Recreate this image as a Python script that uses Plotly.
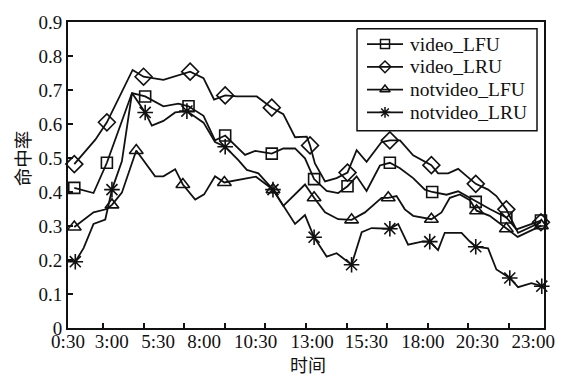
import plotly.graph_objects as go

# Time of day in hours, hit rate per series; *_mk lists the indices that carry a marker.
video_lfu_t = [0.56, 1.51, 2.17, 3.41, 4.06, 4.96, 5.70, 6.20, 6.94, 7.51, 8.01, 8.99, 9.49,
               10.31, 10.88, 11.46, 11.95, 12.40, 13.02, 13.59, 14.05, 14.50, 14.99, 15.65,
               16.14, 16.64, 17.29, 17.87, 18.23, 18.94, 19.51, 20.09, 20.38, 21.07, 21.89,
               22.39, 23.60]
video_lfu_v = [0.412, 0.397, 0.486, 0.691, 0.681, 0.652, 0.660, 0.652, 0.624, 0.552, 0.566,
               0.509, 0.521, 0.513, 0.528, 0.528, 0.499, 0.438, 0.403, 0.397, 0.417, 0.446,
               0.403, 0.478, 0.486, 0.470, 0.441, 0.407, 0.400, 0.392, 0.402, 0.383, 0.371,
               0.350, 0.325, 0.290, 0.316]
video_lfu_mk = [0, 2, 4, 7, 10, 13, 17, 20, 24, 28, 32, 34, 36]

video_lru_t = [0.56, 1.60, 2.17, 3.44, 3.98, 4.96, 6.28, 6.94, 7.46, 8.01, 8.58, 9.57, 10.31,
               10.88, 11.46, 12.04, 12.20, 12.44, 12.94, 13.51, 14.05, 14.50, 14.99, 15.73,
               16.14, 16.64, 17.29, 18.19, 18.52, 19.02, 19.51, 20.38, 20.99, 21.40, 21.89,
               22.47, 23.60]
video_lru_v = [0.482, 0.554, 0.605, 0.759, 0.739, 0.730, 0.754, 0.735, 0.672, 0.684, 0.681,
               0.681, 0.648, 0.629, 0.561, 0.563, 0.537, 0.484, 0.431, 0.441, 0.457, 0.523,
               0.489, 0.547, 0.552, 0.552, 0.508, 0.479, 0.455, 0.455, 0.468, 0.424, 0.407,
               0.388, 0.349, 0.280, 0.311]
video_lru_mk = [0, 2, 4, 6, 9, 12, 16, 20, 24, 27, 31, 34, 36]

notvideo_lfu_t = [0.56, 1.51, 2.17, 2.42, 2.91, 3.62, 4.55, 4.96, 5.54, 5.92, 6.53, 6.97,
                  7.51, 7.97, 9.53, 10.37, 10.88, 11.95, 12.40, 12.94, 13.59, 14.25, 14.91,
                  15.73, 16.06, 16.47, 16.88, 17.29, 18.19, 18.69, 19.10, 19.60, 20.09, 20.42,
                  21.07, 21.89, 22.45, 23.62]
notvideo_lfu_v = [0.297, 0.340, 0.350, 0.362, 0.398, 0.522, 0.446, 0.446, 0.467, 0.422, 0.378,
                  0.393, 0.446, 0.428, 0.445, 0.407, 0.359, 0.422, 0.383, 0.340, 0.320, 0.318,
                  0.340, 0.383, 0.383, 0.388, 0.349, 0.330, 0.320, 0.340, 0.383, 0.393, 0.376,
                  0.345, 0.330, 0.292, 0.268, 0.301]
notvideo_lfu_mk = [0, 3, 5, 9, 13, 15, 18, 21, 24, 28, 33, 35, 37]

notvideo_lru_t = [0.61, 1.02, 1.51, 2.09, 2.42, 2.91, 3.41, 4.06, 4.39, 4.96, 5.54, 6.12, 6.94,
                  7.51, 8.01, 8.66, 9.08, 9.65, 10.37, 10.88, 11.46, 11.95, 12.40, 13.02, 13.51,
                  14.25, 14.75, 15.24, 15.90, 16.14, 16.55, 17.04, 17.78, 18.11, 18.52, 18.85,
                  19.68, 20.09, 20.38, 20.99, 21.40, 22.06, 22.47, 23.13, 23.64]
notvideo_lru_v = [0.195, 0.235, 0.306, 0.319, 0.407, 0.490, 0.691, 0.634, 0.595, 0.609, 0.634,
                  0.638, 0.604, 0.547, 0.533, 0.494, 0.465, 0.455, 0.407, 0.359, 0.306, 0.332,
                  0.267, 0.210, 0.220, 0.186, 0.282, 0.294, 0.294, 0.292, 0.306, 0.245, 0.255,
                  0.254, 0.229, 0.280, 0.280, 0.254, 0.239, 0.234, 0.172, 0.147, 0.120, 0.132,
                  0.123]
notvideo_lru_mk = [0, 4, 7, 11, 14, 18, 22, 25, 29, 33, 38, 41, 44]

series_names = ["video_LFU", "video_LRU", "notvideo_LFU", "notvideo_LRU"]
series = [
    (video_lfu_t, video_lfu_v, video_lfu_mk, "square-open", 11),
    (video_lru_t, video_lru_v, video_lru_mk, "diamond-open", 13),
    (notvideo_lfu_t, notvideo_lfu_v, notvideo_lfu_mk, "triangle-up-open", 12),
    (notvideo_lru_t, notvideo_lru_v, notvideo_lru_mk, "asterisk-open", 13),
]

# Hour ticks (marks only) and the time labels printed under the axis
tick_hours = [2, 4, 6, 8, 10, 12, 14, 16, 18, 20, 22]
label_hours = [0.25, 2.41, 4.70, 6.97, 9.51, 12.30, 14.98, 17.77, 20.46, 23.22]
label_text = ["0:30", "3:00", "5:30", "8:00", "10:30", "13:00", "15:30", "18:00", "20:30", "23:00"]
y_ticks = [0, 0.1, 0.2, 0.3, 0.4, 0.5, 0.6, 0.7, 0.8, 0.9]

BLACK = "#111111"
SERIF = "Liberation Serif, Times New Roman, serif"
CJK = "Noto Sans CJK SC"

# Plot area in pixels
W, H = 567, 376
L, R, T, B = 68, 544, 16, 328

fig = go.Figure()
for t, v, mk, sym, size in series:
    fig.add_trace(go.Scatter(x=t, y=v, mode="lines", line=dict(color=BLACK, width=1.8),
                             showlegend=False, hoverinfo="skip"))
    fig.add_trace(go.Scatter(x=[t[i] for i in mk], y=[v[i] for i in mk], mode="markers",
                             marker=dict(symbol=sym, size=size, color=BLACK,
                                         line=dict(color=BLACK, width=1.6)),
                             showlegend=False, cliponaxis=False))

# Legend box drawn on a pixel-scaled overlay axis pair (x3/y3)
box_l, box_r, box_t, box_b = 357, 537, 23, 127
row_y0, row_pitch = 38.5, 23.2
sample_l, sample_r, text_x = 367, 403, 408
fig.add_trace(go.Scatter(x=[box_l, box_r, box_r, box_l, box_l],
                         y=[box_t, box_t, box_b, box_b, box_t],
                         mode="lines", fill="toself", fillcolor="white",
                         line=dict(color=BLACK, width=1.5),
                         xaxis="x3", yaxis="y3", showlegend=False, hoverinfo="skip"))
annotations = []
for k, (name, (_, _, _, sym, _)) in enumerate(zip(series_names, series)):
    ry = row_y0 + k * row_pitch
    fig.add_trace(go.Scatter(x=[sample_l, sample_r], y=[ry, ry], mode="lines",
                             line=dict(color=BLACK, width=1.8), xaxis="x3", yaxis="y3",
                             showlegend=False, hoverinfo="skip"))
    fig.add_trace(go.Scatter(x=[(sample_l + sample_r) / 2], y=[ry], mode="markers",
                             marker=dict(symbol=sym, size=9, color=BLACK,
                                         line=dict(color=BLACK, width=1.5)),
                             xaxis="x3", yaxis="y3", showlegend=False, hoverinfo="skip"))
    annotations.append(dict(text=name, xref="x3", yref="y3", x=text_x, y=ry,
                            xanchor="left", yanchor="middle", showarrow=False,
                            font=dict(family=SERIF, size=19.5, color=BLACK)))

annotations += [
    dict(text="时间", xref="paper", yref="paper", x=(308 - L) / (R - L), y=(B - 365) / (B - T),
         xanchor="center", yanchor="middle", showarrow=False,
         font=dict(family=CJK, size=18, color=BLACK)),
    dict(text="命中率", xref="paper", yref="paper", x=(22 - L) / (R - L), y=(B - 155) / (B - T),
         xanchor="center", yanchor="middle", textangle=-90, showarrow=False,
         font=dict(family=CJK, size=18.5, color=BLACK)),
]

fig.update_layout(
    width=W, height=H, autosize=False,
    margin=dict(l=L, r=W - R, t=T, b=H - B),
    paper_bgcolor="white", plot_bgcolor="white",
    font=dict(family=SERIF, size=19, color=BLACK),
    showlegend=False,
    xaxis=dict(range=[0.25, 23.75], tickvals=tick_hours, showticklabels=False,
               ticks="inside", ticklen=5, tickwidth=1.5, tickcolor=BLACK,
               showline=True, linecolor=BLACK, linewidth=2, mirror=True,
               showgrid=False, zeroline=False),
    xaxis2=dict(range=[0.25, 23.75], overlaying="x", anchor="y", side="bottom",
                tickvals=label_hours, ticktext=label_text, ticks="", showline=False,
                showgrid=False, zeroline=False, tickfont=dict(family=SERIF, size=19)),
    xaxis3=dict(range=[L, R], overlaying="x", anchor="y3", visible=False, fixedrange=True),
    yaxis3=dict(range=[B, T], overlaying="y", anchor="x3", visible=False, fixedrange=True),
    yaxis=dict(range=[0, 0.9], tickvals=y_ticks, ticktext=[f"{t:g}" for t in y_ticks],
               ticks="inside", ticklen=5, tickwidth=1.5, tickcolor=BLACK,
               showline=True, linecolor=BLACK, linewidth=2, mirror=True,
               showgrid=False, zeroline=False, tickfont=dict(family=SERIF, size=19)),
    annotations=annotations,
)

# a hidden point keeps the label axis (x2) attached to the plot
fig.add_trace(go.Scatter(x=[None], y=[None], xaxis="x2", showlegend=False))

fig.write_html("out.html")
